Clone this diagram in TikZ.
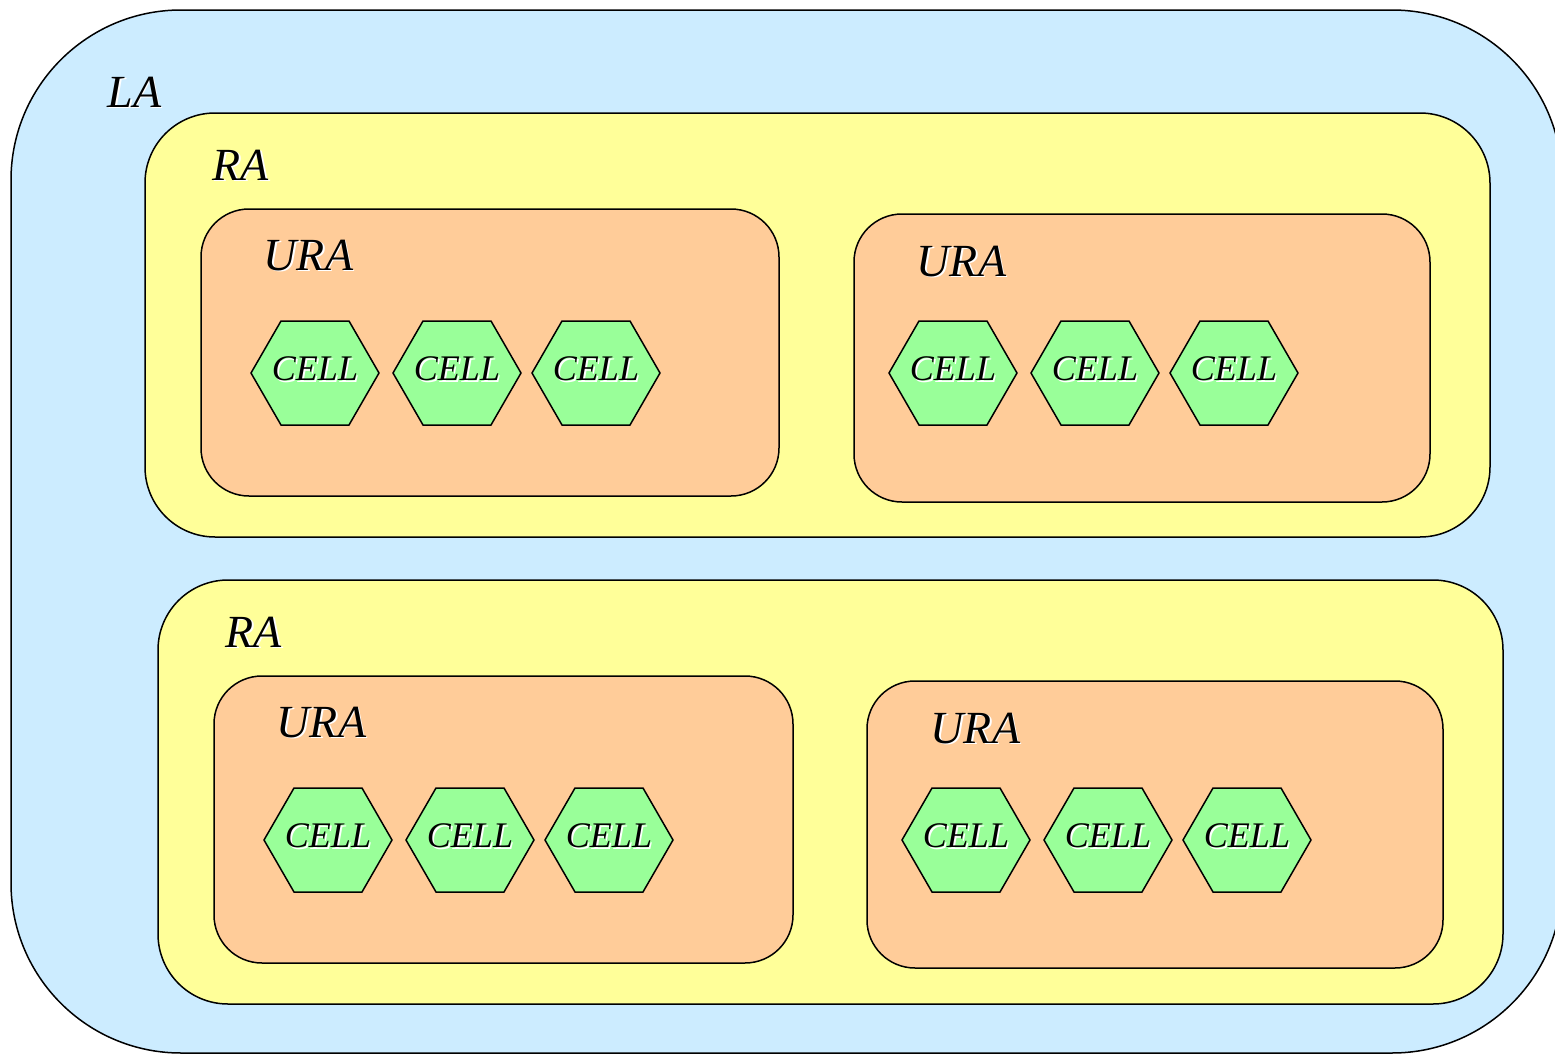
\documentclass[tikz,border=0pt]{standalone}
\usepackage{fontspec}
\setmainfont{Liberation Serif}
\definecolor{lablue}{HTML}{CCECFF}
\definecolor{rayellow}{HTML}{FFFF99}
\definecolor{uraorange}{HTML}{FFCC99}
\definecolor{cellgreen}{HTML}{99FF99}
% Black text with a thin white shadow below right.
\newcommand{\shadowed}[1]{\makebox[0pt][l]{\hspace{0.8pt}\raisebox{-0.8pt}{\color{white}#1}}#1}
\tikzset{every picture/.style={
  line width=0.75pt             % Thin black outlines.
  }
}

\begin{document}
\begin{tikzpicture}[
    x=0.5pt,y=-0.5pt,
    labox/.style={draw,fill=lablue,rounded corners=85pt},
    rabox/.style={draw,fill=rayellow,rounded corners=35pt},
    urabox/.style={draw,fill=uraorange,rounded corners=24pt},
    cellhex/.style={draw,fill=cellgreen,line join=miter},
    cell/.style={
      inner sep=0pt,
      font=\fontsize{18}{20}\selectfont\itshape
    },
    lbl/.style={
      anchor=base west,
      inner sep=0pt,
      font=\fontsize{23}{26}\selectfont\itshape
    }]
    \useasboundingbox (0,0) rectangle (1555,1055);

    % Draw the location area, cut at the right edge.
    \begin{scope}
      \clip (0,0) rectangle (1555,1055);
      \draw[labox] (11,10) rectangle (1562,1053);
    \end{scope}
    \node[lbl] (la) at (107,107) {\shadowed{LA}};

    % Draw the two routing areas.
    \draw[rabox] (145,113) rectangle (1490,537);
    \node[lbl] (ra1) at (212,180) {\shadowed{RA}};
    \draw[rabox] (158,580) rectangle (1503,1004);
    \node[lbl] (ra2) at (225,647) {\shadowed{RA}};

    % Draw the UTRAN registration areas.
    \draw[urabox] (201,209) rectangle (779,496);
    \node[lbl] (ura1) at (263,270) {\shadowed{URA}};
    \draw[urabox] (854,214) rectangle (1430,502);
    \node[lbl] (ura2) at (916,276) {\shadowed{URA}};
    \draw[urabox] (214,676) rectangle (793,963);
    \node[lbl] (ura3) at (276,737) {\shadowed{URA}};
    \draw[urabox] (867,681) rectangle (1443,968);
    \node[lbl] (ura4) at (930,743) {\shadowed{URA}};

    % Place three hexagonal cells in each URA.
    \foreach \dx/\dy [count=\j] in {0/0,638/0,13/467,651/467} {
      \foreach \x [count=\i] in {315,457,596} {
        \draw[cellhex] (\x+\dx-64,373+\dy) -- ++(30,-52) -- ++(68,0)
          -- ++(30,52) -- ++(-30,52) -- ++(-68,0) -- cycle;
        \node[cell] (c\j\i) at (\x+\dx,373+\dy)
          {\raisebox{4pt}{\shadowed{CELL}}};
      }
    }
  \end{tikzpicture}
\end{document}
